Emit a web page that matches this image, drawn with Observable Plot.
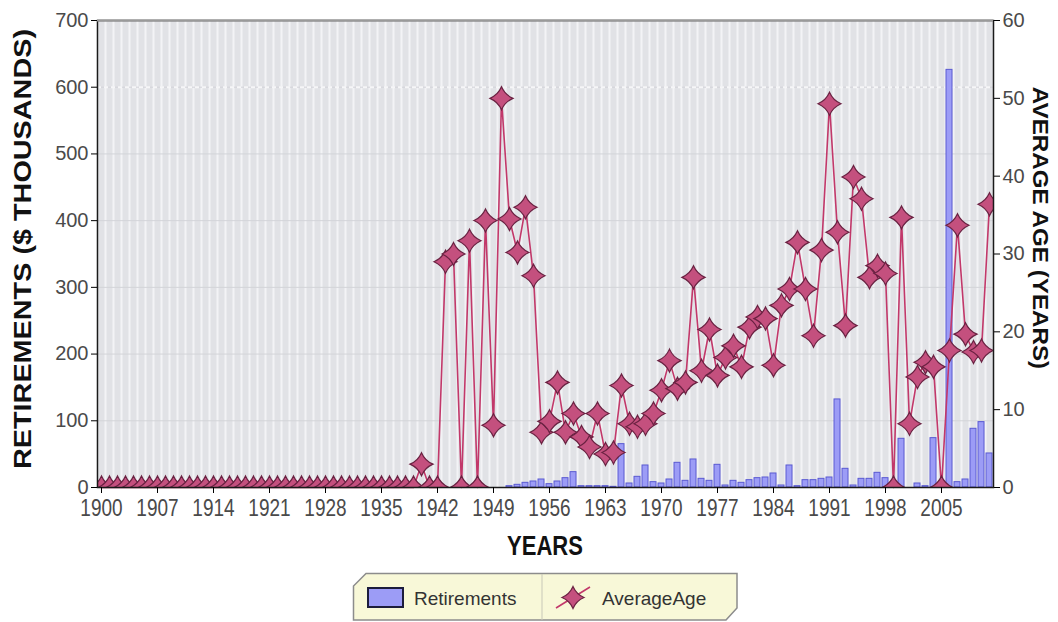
<!DOCTYPE html>
<html>
<head>
<meta charset="utf-8">
<script src="https://cdn.jsdelivr.net/npm/d3@7"></script>
<script src="https://cdn.jsdelivr.net/npm/@observablehq/plot@0.6"></script>
<style>
  body { margin: 0; background: #fff; font-family: "Liberation Sans", Arial, sans-serif; }
  #wrap { position: relative; width: 1058px; height: 622px; overflow: hidden; }
  #chart svg { display: block; }
  .title { position: absolute; font-weight: bold; color: #111; white-space: nowrap; line-height: 1; }
  #chart g[aria-label="x-axis tick label"], #chart g[aria-label="y-axis tick label"] { fill: #4a4a4a; }
  #legend { position: absolute; left: 352px; top: 572px; }
</style>
</head>
<body>
<div id="wrap">
  <div id="chart"></div>
  <div class="title" id="ytitleL" style="left:23px;top:249px;font-size:24px;transform:translate(-50%,-50%) rotate(-90deg) scaleX(1.2);">RETIREMENTS ($ THOUSANDS)</div>
  <div class="title" id="ytitleR" style="left:1040px;top:228px;font-size:22px;transform:translate(-50%,-50%) rotate(90deg) scaleX(1.1);">AVERAGE AGE (YEARS)</div>
  <div class="title" id="xtitle" style="left:545px;top:546px;font-size:22px;transform:translate(-50%,-50%) scaleY(1.25);">YEARS</div>
  <div id="legend"></div>
</div>
<script>
// ---------- data ----------
const years = d3.range(1900, 2012);
const xTickYears = [1900, 1907, 1914, 1921, 1928, 1935, 1942, 1949, 1956, 1963, 1970, 1977, 1984, 1991, 1998, 2005];
const retTicks = [0, 100, 200, 300, 400, 500, 600, 700];
const ageTicks = [0, 10, 20, 30, 40, 50, 60];

// Retirements ($ thousands), 1900..2011
const retirements = [
  0,0,0,0,0,0,0,0,0,0,            // 1900s
  0,0,0,0,0,0,0,0,0,0,            // 1910s
  0,0,0,0,0,0,0,0,0,0,            // 1920s
  0,0,0,0,0,0,0,0,0,0,            // 1930s
  0,0,0,0,0,0,0,0,0,0,            // 1940s
  0,2,4,7,9,12,5,9,14,23,         // 1950s
  2,2,2,2,1,65,6,16,33,8,         // 1960s
  6,12,37,10,42,13,10,34,3,10,    // 1970s
  7,11,14,15,21,3,33,2,11,11,     // 1980s
  13,15,132,28,3,13,13,22,14,0,   // 1990s
  73,0,6,2,74,0,626,8,12,88,      // 2000s
  98,51                           // 2010-2011
];

// Average age (years), 1900..2011
const averageAge = [
  0,0,0,0,0,0,0,0,0,0,
  0,0,0,0,0,0,0,0,0,0,
  0,0,0,0,0,0,0,0,0,0,
  0,0,0,0,0,0,0,0,0,0,
  3,0,0,29,30,0,31.7,0,34.3,8,
  50,34.5,30.2,36,27.2,7.1,8.5,13.5,7.1,9.5,
  6.5,5.2,9.5,4.3,4.5,13.1,8.2,7.8,8.2,9.5,
  12.5,16.3,12.7,13.5,27,15,20.3,14.4,16.7,18.2,
  15.5,20.6,21.9,21.7,15.7,23.4,25.5,31.5,25.5,19.5,
  30.5,49.3,32.8,20.8,39.9,37.1,27,28.5,27.5,0,
  34.7,8.2,14.2,16.1,15.5,0,17.6,33.7,19.7,17.4,
  17.6,36.4
];

// ---------- styles ----------
const BAR_FILL = "#9c9cf6", BAR_STROKE = "#5a5ad2";
const LINE_COLOR = "#c2386a", STAR_FILL = "#c4507e", STAR_STROKE = "#6a2242";
const RET_MAX = 700, AGE_MAX = 60;
const AGE_SCALE = RET_MAX / AGE_MAX; // maps right axis onto the left scale

const retRows = years.map((yr, i) => ({year: yr, value: retirements[i]}));
const ageRows = years.map((yr, i) => ({year: yr, age: averageAge[i]}));

// 4-pointed concave star symbol
const star4 = {
  draw(context, size) {
    const r = Math.sqrt(size / Math.PI);
    const k = r * 0.3;
    context.moveTo(0, -r);
    context.quadraticCurveTo(k, -k, r, 0);
    context.quadraticCurveTo(k, k, 0, r);
    context.quadraticCurveTo(-k, k, -r, 0);
    context.quadraticCurveTo(-k, -k, 0, -r);
    context.closePath();
  }
};

const chart = Plot.plot({
  width: 1058,
  height: 560,
  marginLeft: 97,
  marginRight: 65,
  marginTop: 20,
  marginBottom: 73,
  style: {fontFamily: "'Liberation Sans', Arial, sans-serif", background: "transparent", overflow: "visible"},
  x: {type: "band", domain: years, padding: 0},
  y: {domain: [0, RET_MAX]},
  marks: [
    Plot.frame({fill: "#e1e2e6", stroke: null}),
    Plot.ruleX(years, {x: d => d, dx: -4, stroke: "#f3f3f6", strokeWidth: 2}),
    Plot.ruleY(retTicks.slice(1, -1), {stroke: "#d3d4d9", strokeWidth: 1}),
    Plot.ruleY([600], {stroke: "#f6f6f8", strokeWidth: 2, strokeDasharray: "4,3"}),
    Plot.barY(retRows, {x: "year", y: "value", fill: BAR_FILL, stroke: BAR_STROKE, strokeWidth: 1, insetLeft: 1, insetRight: 1}),
    Plot.line(ageRows, {x: "year", y: d => d.age * AGE_SCALE, stroke: LINE_COLOR, strokeWidth: 1.6}),
    Plot.dot(ageRows, {x: "year", y: d => d.age * AGE_SCALE, symbol: star4, r: 11.5, fill: STAR_FILL, stroke: STAR_STROKE, strokeWidth: 1.2, clip: true}),
    Plot.frame({stroke: "#1a1a1a", strokeWidth: 1.5}),
    Plot.ruleY([RET_MAX], {stroke: "#9a9a9a", strokeWidth: 2}),
    Plot.axisX(xTickYears, {tickSize: 6, tickPadding: 6, fontSize: 19, label: null, tickFormat: d => String(d)}),
    Plot.axisY(retTicks, {anchor: "left", tickSize: 6, tickPadding: 3, fontSize: 20, label: null}),
    Plot.axisY(ageTicks.map(a => a * AGE_SCALE), {anchor: "right", tickSize: 6, tickPadding: 3, fontSize: 20, label: null,
      tickFormat: v => String(Math.round(v / AGE_SCALE))})
  ]
});
document.getElementById("chart").appendChild(chart);

// stretch x tick labels vertically, as in the reference
d3.select(chart).selectAll('g[aria-label="x-axis tick label"] text').each(function() {
  const t = this.getAttribute("transform") || "";
  this.setAttribute("transform", t + " scale(1,1.25)");
});

// ---------- legend ----------
const lg = d3.select("#legend").append("svg").attr("width", 390).attr("height", 50);
lg.append("path").attr("d", "M14,1.5 H385 V36 L374,48 H1.5 V14 Z")
  .attr("fill", "#f8f8d8").attr("stroke", "#8c8c8c").attr("stroke-width", 1.5);
lg.append("line").attr("x1", 190).attr("x2", 190).attr("y1", 2).attr("y2", 48).attr("stroke", "#c8c8b8");
lg.append("rect").attr("x", 16).attr("y", 16).attr("width", 35).attr("height", 19)
  .attr("fill", BAR_FILL).attr("stroke", "#1c1c3c").attr("stroke-width", 2);
lg.append("text").attr("x", 62).attr("y", 33).attr("font-size", 19).attr("fill", "#333")
  .style("font-family", "'Liberation Sans', Arial, sans-serif").text("Retirements");
lg.append("line").attr("x1", 204).attr("y1", 36).attr("x2", 238).attr("y2", 15)
  .attr("stroke", LINE_COLOR).attr("stroke-width", 1.6);
lg.append("path").attr("transform", "translate(221,25.5)")
  .attr("d", d3.symbol(star4, Math.PI * 11 * 11)())
  .attr("fill", STAR_FILL).attr("stroke", STAR_STROKE).attr("stroke-width", 1.2);
lg.append("text").attr("x", 250).attr("y", 33).attr("font-size", 19).attr("fill", "#333")
  .style("font-family", "'Liberation Sans', Arial, sans-serif").text("AverageAge");
</script>
</body>
</html>
